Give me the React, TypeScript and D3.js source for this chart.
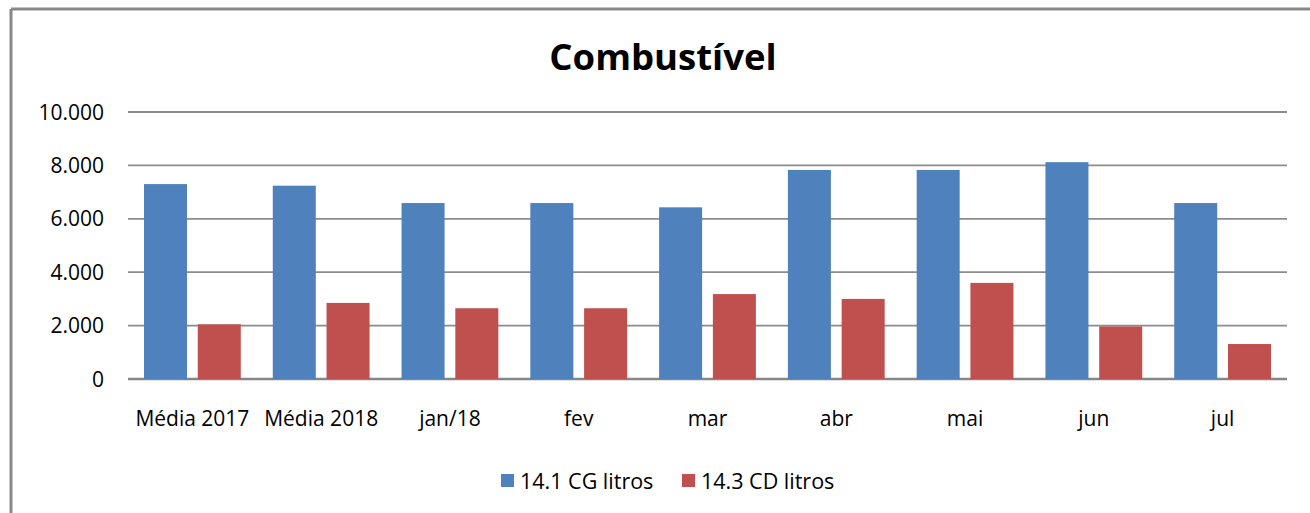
import * as d3 from 'd3'
import React from 'react'

const categories = ['Média 2017', 'Média 2018', 'jan/18', 'fev', 'mar', 'abr', 'mai', 'jun', 'jul']
const seriesNames = ['14.1 CG litros', '14.3 CD litros']
const cgLitros = [7300, 7240, 6590, 6590, 6430, 7830, 7830, 8120, 6590]
const cdLitros = [2050, 2850, 2650, 2650, 3180, 3000, 3600, 1970, 1310]
const yTicks = [0, 2000, 4000, 6000, 8000, 10000]
const colors = ['#4F81BD', '#C0504D']

const W = 1310
const H = 513
const FONT = '"Open Sans", sans-serif'

const ptBR = d3.formatLocale({ decimal: ',', thousands: '.', grouping: [3], currency: ['R$', ''] })
const fmt = ptBR.format(',d')

export default function App() {
  const x = d3.scaleBand().domain(categories).range([128, 1287])
  const bw = x.bandwidth()
  const x1 = d3.scaleBand().domain(seriesNames).range([16, bw - 16]).paddingInner(0.2)
  const y = d3.scaleLinear().domain([0, 10000]).range([379, 112])

  const values = [cgLitros, cdLitros]

  return (
    <svg
      width={W}
      height={H}
      style={{ position: 'absolute', left: 0, top: 0, background: '#fff' }}
      fontFamily={FONT}
    >
      <rect x={0} y={0} width={W} height={H} fill="#fff" />
      {/* chart frame */}
      <line x1={11} y1={9} x2={W + 5} y2={9} stroke="#888" strokeWidth={3} />
      <line x1={11} y1={9} x2={11} y2={H + 5} stroke="#888" strokeWidth={3} />

      <text x={663} y={70} textAnchor="middle" fontSize={36.5} fontWeight="bold" fill="#000">
        Combustível
      </text>

      {/* grid + y labels */}
      {yTicks.map(t => (
        <g key={t}>
          <line
            x1={128}
            x2={1287}
            y1={y(t)}
            y2={y(t)}
            stroke={t === 0 ? '#868686' : '#8c8c8c'}
            strokeWidth={t === 0 ? 2.5 : 1.8}
          />
          <text x={104} y={y(t)} dy="0.36em" textAnchor="end" fontSize={21} fill="#000">
            {fmt(t)}
          </text>
        </g>
      ))}

      {/* bars */}
      {categories.map((c, i) => (
        <g key={c} transform={`translate(${x(c)},0)`}>
          {seriesNames.map((s, j) => (
            <rect
              key={s}
              x={x1(s)}
              y={y(values[j][i])}
              width={x1.bandwidth()}
              height={y(0) - y(values[j][i])}
              fill={colors[j]}
            />
          ))}
          <text x={bw / 2} y={426} textAnchor="middle" fontSize={21} fill="#000">
            {c}
          </text>
        </g>
      ))}

      {/* legend */}
      {seriesNames.map((s, j) => {
        const lx = [501, 682][j]
        return (
          <g key={s}>
            <rect x={lx} y={474} width={13} height={13} fill={colors[j]} />
            <text x={lx + 19} y={489} fontSize={21.5} fill="#000">
              {s}
            </text>
          </g>
        )
      })}
    </svg>
  )
}
